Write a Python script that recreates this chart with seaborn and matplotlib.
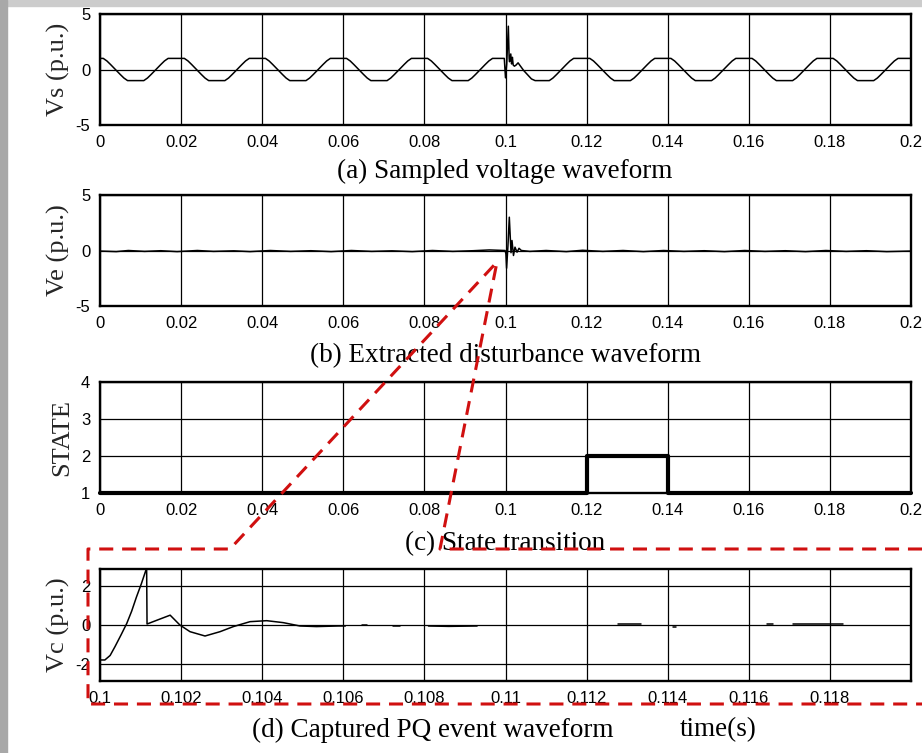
import matplotlib
matplotlib.use("Agg")
import matplotlib.pyplot as plt
from matplotlib.lines import Line2D
from matplotlib.patches import Rectangle
import numpy as np
import pandas as pd
import seaborn as sns

# ---------------- data ----------------
# (a) sampled voltage: time in ms, value in p.u.
vs_t_ms = [0.0,
           0.8, 1.7, 2.6, 3.8, 5.0, 5.9, 6.8, 10.8, 11.7, 12.6, 13.8, 15.0, 15.9, 16.8,
           20.8, 21.7, 22.6, 23.8, 25.0, 25.9, 26.8, 30.8, 31.7, 32.6, 33.8, 35.0, 35.9, 36.8,
           40.8, 41.7, 42.6, 43.8, 45.0, 45.9, 46.8, 50.8, 51.7, 52.6, 53.8, 55.0, 55.9, 56.8,
           60.8, 61.7, 62.6, 63.8, 65.0, 65.9, 66.8, 70.8, 71.7, 72.6, 73.8, 75.0, 75.9, 76.8,
           80.8, 81.7, 82.6, 83.8, 85.0, 85.9, 86.8, 90.8, 91.7, 92.6, 93.8, 95.0, 95.9, 96.8,
           99.7, 100.0, 100.3, 100.7, 100.9, 101.0, 101.3, 101.5, 101.7, 101.9, 102.2, 102.6,
           103.1, 103.6, 104.5, 105.5, 106.4, 107.3,
           110.8, 111.7, 112.6, 113.8, 115.0, 115.9, 116.8,
           120.8, 121.7, 122.6, 123.8, 125.0, 125.9, 126.8, 130.8, 131.7, 132.6, 133.8, 135.0, 135.9, 136.8,
           140.8, 141.7, 142.6, 143.8, 145.0, 145.9, 146.8, 150.8, 151.7, 152.6, 153.8, 155.0, 155.9, 156.8,
           160.8, 161.7, 162.6, 163.8, 165.0, 165.9, 166.8, 170.8, 171.7, 172.6, 173.8, 175.0, 175.9, 176.8,
           180.8, 181.7, 182.6, 183.8, 185.0, 185.9, 186.8, 190.8, 191.7, 192.6, 193.8, 195.0, 195.9, 196.8,
           200.0]
vs_val = [1.0,
          1, .77, .45, 0, -.45, -.77, -1, -1, -.77, -.45, 0, .45, .77, 1,
          1, .77, .45, 0, -.45, -.77, -1, -1, -.77, -.45, 0, .45, .77, 1,
          1, .77, .45, 0, -.45, -.77, -1, -1, -.77, -.45, 0, .45, .77, 1,
          1, .77, .45, 0, -.45, -.77, -1, -1, -.77, -.45, 0, .45, .77, 1,
          1, .77, .45, 0, -.45, -.77, -1, -1, -.77, -.45, 0, .45, .77, 1,
          1.0, -0.75, 0.5, 3.9, 1.0, 0.7, 1.4, 0.5, 1.1, 0.4, 0.3, 0.4,
          0.6, 0.35, -0.1, -0.5, -0.85, -1.0,
          -1, -.77, -.45, 0, .45, .77, 1,
          1, .77, .45, 0, -.45, -.77, -1, -1, -.77, -.45, 0, .45, .77, 1,
          1, .77, .45, 0, -.45, -.77, -1, -1, -.77, -.45, 0, .45, .77, 1,
          1, .77, .45, 0, -.45, -.77, -1, -1, -.77, -.45, 0, .45, .77, 1,
          1, .77, .45, 0, -.45, -.77, -1, -1, -.77, -.45, 0, .45, .77, 1,
          1.0]

# (b) extracted disturbance
ve_t_ms = [0, 4, 7, 11, 15, 19, 24, 28, 33, 37, 42, 47, 52, 57, 62, 67, 72, 77, 82, 87, 92, 96,
           99.9, 100.1, 100.27, 100.6, 100.94, 101.36, 101.6, 101.97, 102.34, 102.84, 103.33, 103.9,
           106, 110, 115, 119, 124, 129, 134, 139, 144, 149, 154, 159, 164, 169, 174, 179, 184,
           189, 194, 200]
ve_val = [-0.05, -0.1, 0.0, -0.08, -0.02, -0.1, 0.0, -0.08, -0.03, -0.1, 0.0, -0.08, -0.02, -0.1,
          0.0, -0.08, -0.03, -0.1, 0.0, -0.08, -0.02, 0.05,
          0.0, -0.3, -1.6, 0.4, 3.0, -0.2, 0.9, -0.45, 0.3, -0.15, 0.2, 0.0,
          -0.08, 0.0, -0.1, 0.02, -0.08, 0.0, -0.1, 0.0, -0.08, -0.02, -0.1, 0.0, -0.08, -0.02,
          -0.1, 0.0, -0.08, -0.02, -0.1, -0.05]

# (c) state transition
st_t = [0.0, 0.12, 0.12, 0.14, 0.14, 0.2]
st_val = [1, 1, 2, 2, 1, 1]

# (d) captured PQ event (ms, p.u., visible segment id)
vc_t_ms = [100.0, 100.12, 100.25, 100.37, 100.52, 100.66, 100.78, 100.9, 101.02, 101.15, 101.16,
           101.45, 101.73, 101.97, 102.22, 102.59, 102.96, 103.29, 103.7, 104.11, 104.52, 104.93,
           105.34, 105.88, 106.05,
           106.46, 106.58,
           107.23, 107.4,
           108.1, 108.6, 109.3,
           112.77, 113.33,
           114.12, 114.2,
           116.45, 116.6,
           117.09, 118.32]
vc_val = [-1.78, -1.78, -1.55, -1.1, -0.5, 0.08, 0.7, 1.43, 2.1, 2.9, 0.05,
          0.28, 0.5, 0.0, -0.34, -0.56, -0.34, -0.08, 0.17, 0.22, 0.12, -0.05,
          -0.08, -0.05, -0.05,
          0.02, 0.02,
          -0.03, -0.03,
          -0.05, -0.07, -0.05,
          0.05, 0.05,
          -0.08, -0.08,
          0.03, 0.03,
          0.05, 0.05]
vc_seg = [0] * 25 + [1, 1, 2, 2, 3, 3, 3, 4, 4, 5, 5, 6, 6, 7, 7]

# axis ticks / labels
main_xticks = [0, 0.02, 0.04, 0.06, 0.08, 0.1, 0.12, 0.14, 0.16, 0.18, 0.2]
main_xlabels = ["0", "0.02", "0.04", "0.06", "0.08", "0.1", "0.12", "0.14", "0.16", "0.18", "0.2"]
zoom_xticks = [0.1, 0.102, 0.104, 0.106, 0.108, 0.11, 0.112, 0.114, 0.116, 0.118]
zoom_xlabels = ["0.1", "0.102", "0.104", "0.106", "0.108", "0.11", "0.112", "0.114", "0.116", "0.118"]
v_yticks = [-5, 0, 5]
st_yticks = [1, 2, 3, 4]
vc_yticks = [-2, 0, 2]

captions = ["(a) Sampled voltage waveform", "(b) Extracted disturbance waveform",
            "(c) State transition", "(d) Captured PQ event waveform"]
ylabels = ["Vs (p.u.)", "Ve (p.u.)", "STATE", "Vc (p.u.)"]
time_label = "time(s)"

# ---------------- plotting ----------------
sns.set_theme(style="white")
plt.rcParams["font.family"] = ["Liberation Sans", "DejaVu Sans"]
plt.rcParams["axes.unicode_minus"] = False

W, H = 922, 753
fig = plt.figure(figsize=(W / 100, H / 100), dpi=100)
fig.patch.set_facecolor("white")


def ax_px(left, top, right, bottom):
    return fig.add_axes([left / W, 1 - bottom / H, (right - left) / W, (bottom - top) / H])


ax1 = ax_px(100, 14, 911, 125)
ax2 = ax_px(100, 195, 911, 306)
ax3 = ax_px(100, 382, 911, 493)
ax4 = ax_px(100, 569, 911, 681)

df_vs = pd.DataFrame({"t": np.array(vs_t_ms) / 1000, "v": vs_val})
df_ve = pd.DataFrame({"t": np.array(ve_t_ms) / 1000, "v": ve_val})
df_st = pd.DataFrame({"t": st_t, "v": st_val})
df_vc = pd.DataFrame({"t": np.array(vc_t_ms) / 1000, "v": vc_val, "seg": vc_seg})

sns.lineplot(data=df_vs, x="t", y="v", ax=ax1, color="black", lw=1.1, sort=False, estimator=None)
sns.lineplot(data=df_ve, x="t", y="v", ax=ax2, color="black", lw=1.1, sort=False, estimator=None)
sns.lineplot(data=df_st, x="t", y="v", ax=ax3, color="black", lw=3.0, sort=False, estimator=None,
             clip_on=False, zorder=5)
sns.lineplot(data=df_vc, x="t", y="v", units="seg", ax=ax4, color="black", lw=1.1, sort=False,
             estimator=None)


def style(ax, xlim, ylim, xt, xl, yt, ylab, lab_x):
    ax.set_xlim(*xlim)
    ax.set_ylim(*ylim)
    ax.set_xticks(xt, xl)
    ax.set_yticks(yt, [str(v) for v in yt])
    ax.set_xlabel("")
    ax.set_ylabel(ylab, family="Liberation Serif", fontsize=19, va="center")
    ax.yaxis.set_label_coords(lab_x, 0.5)
    ax.set_facecolor("white")
    ax.grid(True, color="black", lw=0.9)
    ax.set_axisbelow(True)
    ax.tick_params(length=0, pad=7, labelsize=12, colors="black")
    for s in ax.spines.values():
        s.set_linewidth(1.7)
        s.set_color("black")
        s.set_zorder(6)


style(ax1, (0, 0.2), (-5, 5), main_xticks, main_xlabels, v_yticks, ylabels[0], (58 - 100) / 811)
style(ax2, (0, 0.2), (-5, 5), main_xticks, main_xlabels, v_yticks, ylabels[1], (58 - 100) / 811)
style(ax3, (0, 0.2), (1, 4), main_xticks, main_xlabels, st_yticks, ylabels[2], (62 - 100) / 811)
style(ax4, (0.1, 0.12), (-2.85, 2.85), zoom_xticks, zoom_xlabels, vc_yticks, ylabels[3],
      (58 - 100) / 811)
ax4.set_xticks([0.1, 0.102, 0.104, 0.106, 0.108, 0.11, 0.112, 0.114, 0.116, 0.118, 0.12],
               zoom_xlabels + [""])

# captions
serif = dict(family="Liberation Serif", fontsize=19.5, color="black", ha="center", va="baseline")
fig.text(505 / W, 1 - 178 / H, captions[0], **serif)
fig.text(505 / W, 1 - 362 / H, captions[1], **serif)
fig.text(505 / W, 1 - 550 / H, captions[2], **serif)
fig.text(252 / W, 1 - 737 / H, captions[3], **{**serif, "ha": "left"})
fig.text(680 / W, 1 - 736 / H, time_label, **{**serif, "ha": "left"})

# grey frame strips
fig.add_artist(Rectangle((0, 1 - 6 / H), 1, 6 / H, transform=fig.transFigure,
                         color="#cccccc", zorder=0))
fig.add_artist(Rectangle((0, 0), 7 / W, 1, transform=fig.transFigure,
                         color="#a8a8a8", zorder=0))

# red dashed zoom-callout outline
px = [922, 440, 497, 230, 88, 88, 922]
py = [549, 549, 262, 549, 549, 704, 704]
fig.add_artist(Line2D([x / W for x in px], [1 - y / H for y in py], transform=fig.transFigure,
                      color="#d01010", lw=2.2, linestyle=(0, (4.6, 2.9)), zorder=20))

fig.savefig("out.png", dpi=100)
